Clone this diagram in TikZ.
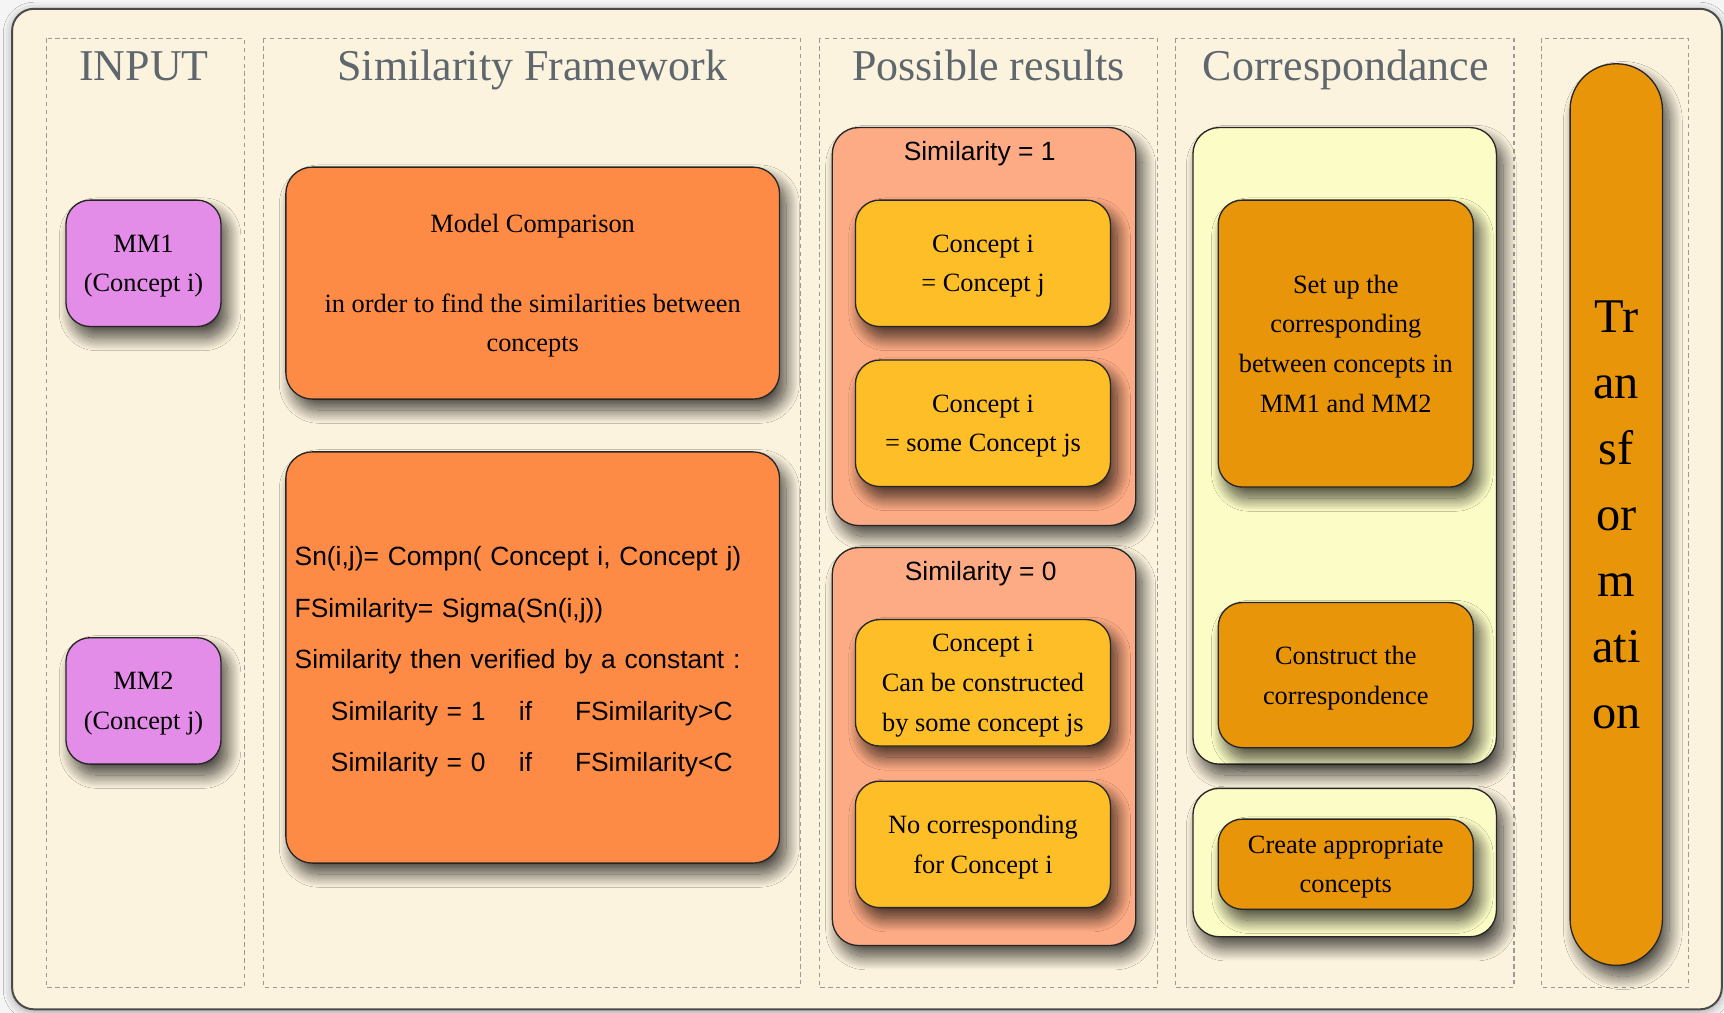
\documentclass[tikz,border=0pt]{standalone}
\usepackage{fontspec}
\setmainfont{Liberation Serif}
\setsansfont{Liberation Sans}
\usetikzlibrary{shadows.blur}

\definecolor{panelbg}{HTML}{FCF3DE}
\definecolor{panelline}{HTML}{4A4A4A}
\definecolor{colline}{HTML}{9A9A9A}
\definecolor{titlegray}{HTML}{5E666E}
\definecolor{mmviolet}{HTML}{E38DE8}
\definecolor{cmporange}{HTML}{FD8B45}
\definecolor{salmon}{HTML}{FDAB84}
\definecolor{amber}{HTML}{FDBE27}
\definecolor{paleyellow}{HTML}{FCFDC6}
\definecolor{darkorange}{HTML}{E8950A}

\tikzset{
  colbox/.style={draw=colline, line width=0.5pt, dash pattern=on 2pt off 1.6pt},
  coltitle/.style={text=titlegray, font=\fontsize{20}{24}\selectfont, inner sep=0pt, anchor=base},
  shade box/.style={blur shadow={shadow xshift=3pt, shadow yshift=-5pt,
      shadow blur radius=6pt, shadow blur steps=24, shadow opacity=72}},
  box/.style={draw=black!85, line width=0.6pt, rounded corners=11pt, align=center,
      inner sep=0pt, text depth=-1pt, font=\fontsize{12}{18}\selectfont, shade box},
  mmbox/.style={box, fill=mmviolet, minimum width=70.5pt, minimum height=57.5pt},
  cmpbox/.style={box, fill=cmporange, rounded corners=12pt, minimum width=224.5pt},
  groupbox/.style={box, rounded corners=12pt, minimum width=138pt},
  resbox/.style={box, fill=amber, minimum width=116pt, minimum height=57.5pt},
  corrbox/.style={box, fill=darkorange, minimum width=116pt},
  grouptitle/.style={font=\sffamily\fontsize{12}{14}\selectfont, inner sep=0pt},
}

\begin{document}
\begin{tikzpicture}[x=0.5pt, y=-0.5pt]
\useasboundingbox (0,0) rectangle (1568,921);
\fill[white!96!black] (0,0) rectangle (1568,921);

% outer panel
\draw[panelline, line width=0.9pt, fill=panelbg, rounded corners=10pt,
  blur shadow={shadow xshift=0pt, shadow yshift=-1pt, shadow blur radius=4pt, shadow opacity=35}]
  (11,8) rectangle (1566,918);

% dashed columns
\draw[colbox] (42,35) rectangle (222,898);
\draw[colbox] (240,35) rectangle (728,898);
\draw[colbox] (745,35) rectangle (1053,898);
\draw[colbox] (1069,35) rectangle (1377,898);
\draw[colbox] (1402,35) rectangle (1536,898);

% column headings
\node[coltitle] (tinput) at (131,73) {INPUT};
\node[coltitle] (tsim) at (484,73) {Similarity Framework};
\node[coltitle] (tres) at (899,73) {Possible results};
\node[coltitle] (tcorr) at (1224,73) {Correspondance};

% input metamodels
\node[mmbox] (mm1) at (130.5,239.5) {MM1\\(Concept i)};
\node[mmbox] (mm2) at (130.5,637.5) {MM2\\(Concept j)};

% similarity framework
\node[cmpbox, minimum height=105.5pt] (cmp) at (484.5,257.5)
  {Model Comparison\\[18pt]in order to find the similarities between\\concepts};
\node[cmpbox, minimum height=187pt, text width=216.5pt, inner xsep=4pt, align=left,
  font=\sffamily\fontsize{12}{23.4}\selectfont, text depth=92pt] (form) at (484.5,598)
  {Sn(i,j)= Compn( Concept i, Concept j)\\
   FSimilarity= Sigma(Sn(i,j))\\
   Similarity then verified by a constant :\\
   \hspace*{16.5pt}\makebox[85.5pt][l]{Similarity = 1}\makebox[25.5pt][l]{if}FSimilarity>C\\
   \hspace*{16.5pt}\makebox[85.5pt][l]{Similarity = 0}\makebox[25.5pt][l]{if}FSimilarity<C};

% possible results
\node[groupbox, fill=salmon, minimum height=181pt] (sim1) at (895,297) {};
\node[grouptitle] (sim1t) at (891,140) {Similarity = 1};
\node[resbox] (c11) at (894,239.5) {Concept i\\= Concept j};
\node[resbox] (c12) at (894,385) {Concept i\\= some Concept js};

\node[groupbox, fill=salmon, minimum height=181pt] (sim0) at (895,679) {};
\node[grouptitle] (sim0t) at (892,522) {Similarity = 0};
\node[resbox] (c01) at (894,621) {Concept i\\Can be constructed\\by some concept js};
\node[resbox] (c02) at (894,768) {No corresponding\\for Concept i};

% correspondence
\node[groupbox, fill=paleyellow, minimum height=289.5pt] (corr1) at (1223,405.5) {};
\node[corrbox, minimum height=130.5pt] (setup) at (1224,312.5)
  {Set up the\\corresponding\\between concepts in\\MM1 and MM2};
\node[corrbox, minimum height=66pt] (construct) at (1224,614)
  {Construct the\\correspondence};
\node[groupbox, fill=paleyellow, minimum height=67.5pt] (corr2) at (1223,784.5) {};
\node[corrbox, minimum height=41pt] (create) at (1224,786)
  {Create appropriate\\concepts};

% transformation bar
\node[box, fill=darkorange, rounded corners=20.9pt, minimum width=42pt, minimum height=410pt,
  font=\fontsize{22}{30}\selectfont, text depth=-2.5pt] (trans) at (1470,468)
  {Tr\\an\\sf\\or\\m\\ati\\on};
\end{tikzpicture}
\end{document}
